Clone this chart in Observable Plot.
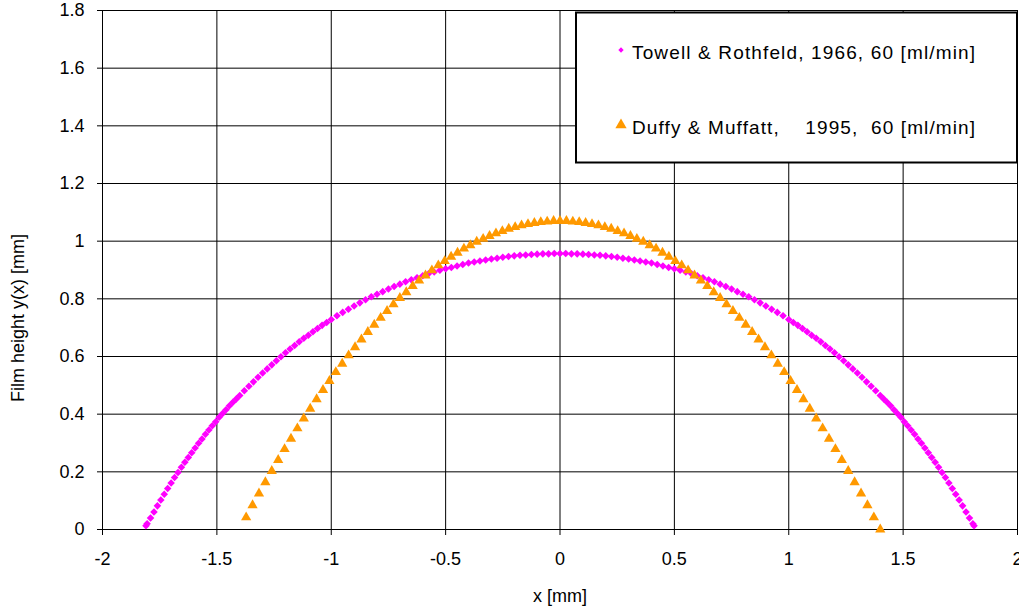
<!DOCTYPE html>
<html><head><meta charset="utf-8">
<script src="https://cdn.jsdelivr.net/npm/d3@7"></script>
<script src="https://cdn.jsdelivr.net/npm/@observablehq/plot@0.6"></script>
<style>
html,body{margin:0;padding:0;background:#fff;}
#chart{width:1019px;height:609px;}
</style></head><body><div id="chart"></div>
<script>
// Towell & Rothfeld, 1966 (magenta diamonds)
const towellX = [-1.81,-1.805,-1.79,-1.775,-1.76,-1.745,-1.73,-1.715,-1.7,-1.685,-1.67,-1.655,-1.64,-1.625,-1.61,-1.595,-1.58,-1.565,-1.55,-1.535,-1.52,-1.505,-1.49,-1.475,-1.46,-1.445,-1.43,-1.415,-1.4,-1.38,-1.36,-1.34,-1.32,-1.3,-1.28,-1.26,-1.24,-1.22,-1.2,-1.18,-1.16,-1.14,-1.12,-1.1,-1.08,-1.06,-1.04,-1.02,-1.0,-0.975,-0.95,-0.925,-0.9,-0.875,-0.85,-0.825,-0.8,-0.775,-0.75,-0.725,-0.7,-0.675,-0.65,-0.625,-0.6,-0.575,-0.55,-0.525,-0.5,-0.475,-0.45,-0.425,-0.4,-0.375,-0.35,-0.325,-0.3,-0.275,-0.25,-0.225,-0.2,-0.175,-0.15,-0.125,-0.1,-0.075,-0.05,-0.025,
0,
0.025,0.05,0.075,0.1,0.125,0.15,0.175,0.2,0.225,0.25,0.275,0.3,0.325,0.35,0.375,0.4,0.425,0.45,0.475,0.5,0.525,0.55,0.575,0.6,0.625,0.65,0.675,0.7,0.725,0.75,0.775,0.8,0.825,0.85,0.875,0.9,0.925,0.95,0.975,1.0,1.02,1.04,1.06,1.08,1.1,1.12,1.14,1.16,1.18,1.2,1.22,1.24,1.26,1.28,1.3,1.32,1.34,1.36,1.38,1.4,1.415,1.43,1.445,1.46,1.475,1.49,1.505,1.52,1.535,1.55,1.565,1.58,1.595,1.61,1.625,1.64,1.655,1.67,1.685,1.7,1.715,1.73,1.745,1.76,1.775,1.79,1.805,1.81];
const towellY = [0.013,0.020,0.040,0.061,0.082,0.102,0.122,0.142,0.161,0.180,0.198,0.216,0.233,0.250,0.266,0.283,0.299,0.314,0.330,0.345,0.360,0.374,0.389,0.402,0.415,0.429,0.441,0.453,0.465,0.481,0.497,0.512,0.528,0.543,0.557,0.571,0.585,0.599,0.613,0.626,0.638,0.651,0.663,0.674,0.686,0.697,0.708,0.718,0.728,0.741,0.753,0.764,0.775,0.786,0.797,0.807,0.816,0.825,0.834,0.843,0.851,0.859,0.866,0.873,0.880,0.887,0.893,0.899,0.904,0.909,0.914,0.919,0.924,0.928,0.931,0.935,0.938,0.941,0.944,0.947,0.949,0.951,0.952,0.954,0.955,0.956,0.956,0.957,
0.957,
0.957,0.956,0.956,0.955,0.954,0.952,0.951,0.949,0.947,0.944,0.941,0.938,0.935,0.931,0.928,0.924,0.919,0.914,0.909,0.904,0.899,0.893,0.887,0.880,0.873,0.866,0.859,0.851,0.843,0.834,0.825,0.816,0.807,0.797,0.786,0.775,0.764,0.753,0.741,0.728,0.718,0.708,0.697,0.686,0.674,0.663,0.651,0.638,0.626,0.613,0.599,0.585,0.571,0.557,0.543,0.528,0.512,0.497,0.481,0.465,0.453,0.441,0.429,0.415,0.402,0.389,0.374,0.360,0.345,0.330,0.314,0.299,0.283,0.266,0.250,0.233,0.216,0.198,0.180,0.161,0.142,0.122,0.102,0.082,0.061,0.040,0.020,0.013];

// Duffy & Muffatt, 1995 (orange triangles)
const duffyX = [-1.372,-1.344,-1.316,-1.288,-1.26,-1.232,-1.204,-1.176,-1.148,-1.12,-1.092,-1.064,-1.036,-1.008,-0.98,-0.952,-0.924,-0.896,-0.868,-0.84,-0.812,-0.784,-0.756,-0.728,-0.7,-0.672,-0.644,-0.616,-0.588,-0.56,-0.532,-0.504,-0.476,-0.448,-0.42,-0.392,-0.364,-0.336,-0.308,-0.28,-0.252,-0.224,-0.196,-0.168,-0.14,-0.112,-0.084,-0.056,-0.028,
0,
0.028,0.056,0.084,0.112,0.14,0.168,0.196,0.224,0.252,0.28,0.308,0.336,0.364,0.392,0.42,0.448,0.476,0.504,0.532,0.56,0.588,0.616,0.644,0.672,0.7,0.728,0.756,0.784,0.812,0.84,0.868,0.896,0.924,0.952,0.98,1.008,1.036,1.064,1.092,1.12,1.148,1.176,1.204,1.232,1.26,1.288,1.316,1.344,1.372,1.4];
const duffyY = [0.042,0.084,0.125,0.164,0.203,0.241,0.279,0.315,0.351,0.385,0.419,0.452,0.484,0.515,0.546,0.575,0.604,0.632,0.659,0.685,0.710,0.734,0.758,0.781,0.803,0.823,0.844,0.863,0.881,0.899,0.916,0.931,0.946,0.960,0.974,0.986,0.998,1.008,1.018,1.027,1.035,1.043,1.049,1.055,1.059,1.063,1.066,1.068,1.070,
1.070,
1.070,1.068,1.066,1.063,1.059,1.055,1.049,1.043,1.035,1.027,1.018,1.008,0.998,0.986,0.974,0.960,0.946,0.931,0.916,0.899,0.881,0.863,0.844,0.823,0.803,0.781,0.758,0.734,0.710,0.685,0.659,0.632,0.604,0.575,0.546,0.515,0.484,0.452,0.419,0.385,0.351,0.315,0.279,0.241,0.203,0.164,0.125,0.084,0.042,0.000];

const xTicks = [-2,-1.5,-1,-0.5,0,0.5,1,1.5,2];
const yTicks = [0,0.2,0.4,0.6,0.8,1,1.2,1.4,1.6,1.8];
const seriesNames = ["Towell & Rothfeld, 1966, 60 [ml/min]", "Duffy & Muffatt,    1995,  60 [ml/min]"];
const seriesColors = ["#FF00FF", "#FF9900"];
const xLabel = "x [mm]";
const yLabel = "Film height y(x) [mm]";

const towell = towellX.map((x, i) => ({x, y: towellY[i]}));
const duffy = duffyX.map((x, i) => ({x, y: duffyY[i]}));

const FONT = "'Liberation Sans', Arial, sans-serif";

const svg = Plot.plot({
  width: 1019, height: 609,
  marginLeft: 102, marginRight: 2, marginTop: 10, marginBottom: 80,
  x: {domain: [-2, 2]},
  y: {domain: [0, 1.8]},
  style: {fontFamily: FONT, fontSize: "18px", color: "#000", background: "#fff", overflow: "visible"},
  marks: [
    Plot.gridX(xTicks, {stroke: "#000", strokeOpacity: 1, strokeWidth: 1}),
    Plot.gridY(yTicks, {stroke: "#000", strokeOpacity: 1, strokeWidth: 1}),
    Plot.axisX(xTicks, {tickSize: 6, tickPadding: 17, tickFormat: d => String(d), label: null, stroke: "#000"}),
    Plot.axisY(yTicks, {tickSize: 5, tickPadding: 13, tickFormat: d => String(d), label: null, stroke: "#000"}),
    Plot.dot(towell, {x: "x", y: "y", symbol: "diamond2", r: 3.4, fill: seriesColors[0], stroke: "none"}),
    Plot.dot(duffy, {x: "x", y: "y", symbol: "triangle", r: 3.8, fill: seriesColors[1], stroke: "none"})
  ]
});

const s = d3.select(svg);
// axis titles
s.append("text").attr("x", 560).attr("y", 602).attr("text-anchor", "middle")
  .attr("font-family", FONT).attr("font-size", 18).attr("fill", "#000").text(xLabel);
s.append("text").attr("transform", "translate(24,318) rotate(-90)").attr("text-anchor", "middle")
  .attr("font-family", FONT).attr("font-size", 18).attr("fill", "#000").text(yLabel);

// legend
const lg = s.append("g");
lg.append("rect").attr("x", 576).attr("y", 12.5).attr("width", 441).attr("height", 150)
  .attr("fill", "#fff").attr("stroke", "#000").attr("stroke-width", 2);
const symTypes = [d3.symbolDiamond2 || d3.symbolSquare, d3.symbolTriangle];
const symSizes = [18, 55];
const rowY = [50, 125];
seriesNames.forEach((name, i) => {
  lg.append("path").attr("d", d3.symbol().type(symTypes[i]).size(symSizes[i])())
    .attr("transform", `translate(621,${rowY[i]})`).attr("fill", seriesColors[i]);
  lg.append("text").attr("x", 632).attr("y", rowY[i] + 9)
    .attr("text-anchor", "start")
    .attr("xml:space", "preserve").style("white-space", "pre")
    .attr("font-family", FONT).attr("font-size", 19).attr("fill", "#000")
    .attr("textLength", 343).attr("lengthAdjust", "spacing")
    .text(name);
});

document.getElementById("chart").appendChild(svg);
</script></body></html>
